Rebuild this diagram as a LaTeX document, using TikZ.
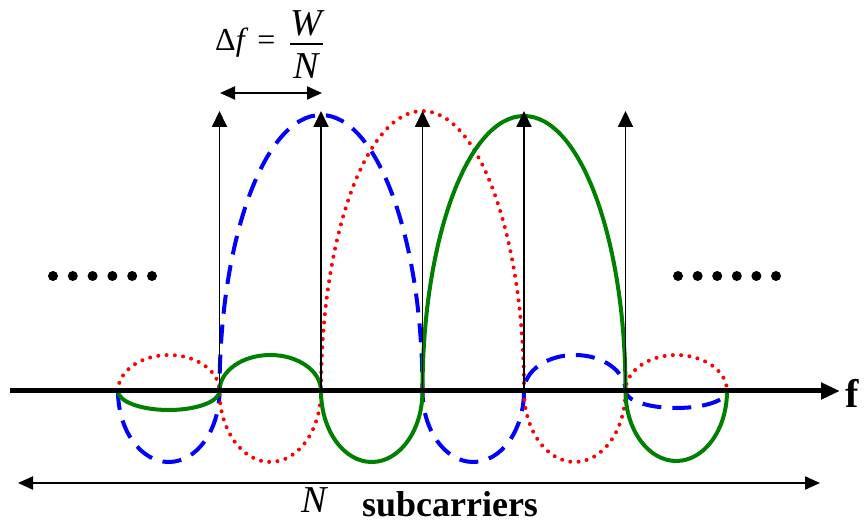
\documentclass[tikz,border=0pt]{standalone}
\usepackage{fontspec}
\setmainfont{Liberation Serif}
\usetikzlibrary{arrows.meta}
\definecolor{lobeblue}{HTML}{0000FF}
\definecolor{lobered}{HTML}{FF0000}
\definecolor{lobegreen}{HTML}{008000}

\tikzset{
  carrier/.style={line width=1.8pt,-{Triangle[length=16pt,width=15pt]}},
  spanarrow/.style={line width=2pt,{Triangle[length=15pt,width=13pt]}-{Triangle[length=15pt,width=13pt]}},
  bluelobe/.style={lobeblue,line width=4pt,dash pattern=on 19pt off 11pt},
  redlobe/.style={lobered,line width=4pt,line cap=round,dash pattern=on 0pt off 8.3pt},
  greenlobe/.style={lobegreen,line width=4pt},
  ellip/.style={circle,fill,inner sep=0pt,minimum size=10pt},
  fracpart/.style={font=\fontsize{38}{40}\selectfont\itshape,inner sep=0pt}
}

\begin{document}
\begin{tikzpicture}[x=1pt,y=1pt]
        \useasboundingbox (0,0) rectangle (865,524);

        % frequency axis and subcarrier positions
        \coordinate (ax0) at (10,133);
        \coordinate (ax1) at (840,133);
        \foreach \k in {0,...,6} {
          \coordinate (c\k) at ({118+101.5*\k},133);
          \coordinate (t\k) at ({118+101.5*\k},413);
        }

        % spectra of the subcarriers
        \draw[bluelobe] (c0) arc[start angle=180,end angle=360,x radius=50.75pt,y radius=71pt]
          arc[start angle=180,end angle=0,x radius=101.5pt,y radius=276pt]
          arc[start angle=180,end angle=360,x radius=50.75pt,y radius=71pt]
          arc[start angle=180,end angle=0,x radius=50.75pt,y radius=36pt]
          arc[start angle=180,end angle=360,x radius=50.75pt,y radius=17pt];
        \draw[redlobe] (c0) arc[start angle=180,end angle=0,x radius=50.75pt,y radius=36pt]
          arc[start angle=180,end angle=360,x radius=50.75pt,y radius=71pt]
          arc[start angle=180,end angle=0,x radius=101.5pt,y radius=280pt]
          arc[start angle=180,end angle=360,x radius=50.75pt,y radius=71pt]
          arc[start angle=180,end angle=0,x radius=50.75pt,y radius=36pt];
        \draw[greenlobe] (c0) arc[start angle=180,end angle=360,x radius=50.75pt,y radius=19pt]
          arc[start angle=180,end angle=0,x radius=50.75pt,y radius=36pt]
          arc[start angle=180,end angle=360,x radius=50.75pt,y radius=71pt]
          arc[start angle=180,end angle=0,x radius=101.5pt,y radius=275pt]
          arc[start angle=180,end angle=360,x radius=50.75pt,y radius=70pt];

        \draw[line width=5pt,-{Triangle[length=19pt,width=16pt]}] (ax0) -- (ax1);
        \node[anchor=west,font=\fontsize{40}{42}\selectfont\bfseries,inner sep=0pt] (flabel) at (845,131) {f};

        % subcarriers
        \foreach \k in {1,...,5}
          \draw[carrier] (c\k) -- (t\k);

        % spacing
        \coordinate (df0) at (220,431);
        \coordinate (df1) at (322,431);
        \draw[spanarrow] (df0) -- (df1);
        \node[anchor=west,inner sep=0pt,font=\fontsize{32}{34}\selectfont] (dflabel) at (215,481)
          {Δ\textit{f}\hskip 9pt=};
        \node[fracpart] (wnum) at (306,501) {W};
        \node[fracpart] (nden) at (306,458) {N};
        \coordinate (bar0) at (290,480);
        \coordinate (bar1) at (323,480);
        \draw[line width=1.3pt] (bar0) -- (bar1);

        % more subcarriers
        \foreach \i in {0,...,5} {
          \node[ellip] (ldot\i) at ({53+19.8*\i},248) {};
          \node[ellip] (rdot\i) at ({678+19.6*\i},248) {};
        }

        % all subcarriers
        \coordinate (n0) at (18,41);
        \coordinate (n1) at (820,41);
        \draw[spanarrow] (n0) -- (n1);
        \node[font=\fontsize{38}{40}\selectfont\itshape,inner sep=0pt] (nlabel) at (314,24) {N};
        \node[font=\fontsize{36}{38}\selectfont\bfseries,inner sep=0pt] (sublabel) at (450,20) {subcarriers};
      \end{tikzpicture}
\end{document}
